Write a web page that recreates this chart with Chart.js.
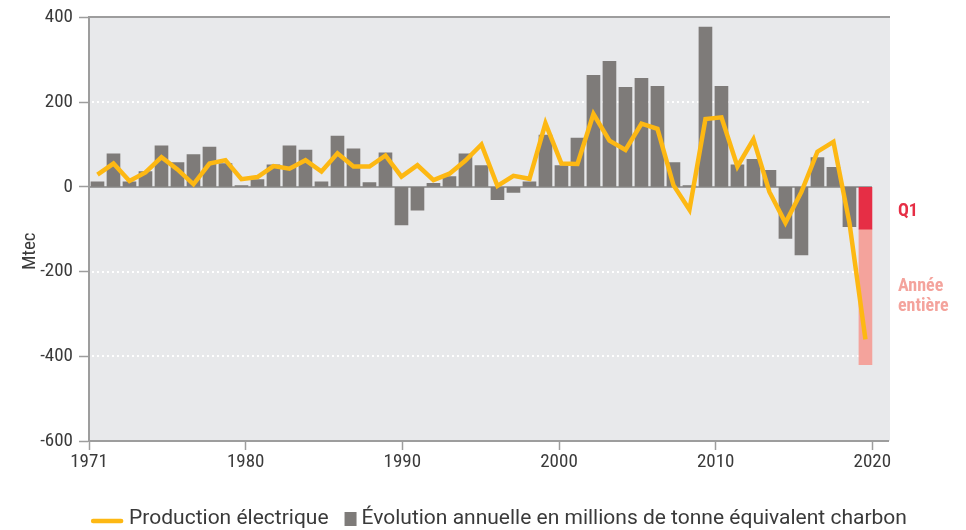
<!DOCTYPE html>
<html>
<head>
<meta charset="utf-8">
<script src="https://cdn.jsdelivr.net/npm/chart.js@4/dist/chart.umd.min.js"></script>
<style>
  html, body { margin: 0; padding: 0; background: #ffffff; }
  #wrap { width: 966px; height: 530px; position: relative; }
  canvas { display: block; }
</style>
</head>
<body>
<div id="wrap"><canvas id="chart" width="966" height="530" style="width:966px;height:530px"></canvas></div>
<script>
// ---------- DATA ----------
const years = [1972,1973,1974,1975,1976,1977,1978,1979,1980,1981,
               1982,1983,1984,1985,1986,1987,1988,1989,1990,1991,
               1992,1993,1994,1995,1996,1997,1998,1999,2000,2001,
               2002,2003,2004,2005,2006,2007,2008,2009,2010,2011,
               2012,2013,2014,2015,2016,2017,2018,2019,2020];

// Annual change in coal demand (Mtec), 1972-2019
const coalChange = [12,78,12,36,97,57,76,94,55,3,
                    17,52,97,87,12,120,90,10,80,-90,
                    -55,8,24,78,50,-30,-13,12,122,50,
                    115,263,296,235,256,237,57,3,377,237,
                    52,65,39,-122,-161,69,46,-94];

// Change in electricity production (Mtec equivalent), 1972-2020
const powerChange = [29,55,14,34,70,41,6,55,63,18,
                     23,49,43,63,36,79,48,48,74,24,
                     51,16,31,62,100,2,26,19,150,55,
                     54,172,109,87,149,137,4,-54,160,164,
                     48,112,-12,-85,-12,83,106,-85,-360];

const lastYear = 2020;
const q1Value = -100;        // 2020, first quarter
const fullYearValue = -420;  // 2020, whole year

const xTickLabels = ['1971','1980','1990','2000','2010','2020'];
const yTickLabels = ['-600','-400','-200','0','200','400'];

const seriesLabels = ['Production électrique',
                      'Évolution annuelle en millions de tonne équivalent charbon'];
const q1Label = 'Q1';
const fullYearLabel = ['Année', 'entière'];
const yTitle = 'Mtec';

// ---------- STYLE ----------
const C_LINE = '#fdb813';
const C_BAR = '#7e7b79';
const C_Q1 = '#e62e45';
const C_FULL = '#f4a39c';
const C_BG = '#e8e9eb';
const C_AXIS = '#9d9d9d';
const C_TEXT = '#3a3a3a';
const TICK_FONT = "'Liberation Sans Narrow', 'Roboto Condensed', 'DejaVu Sans Condensed', sans-serif";
const LEG_FONT = "Roboto, 'Noto Sans', sans-serif";

const coalPoints = coalChange.map((v, i) => ({ x: years[i], y: v }));
const powerPoints = powerChange.map((v, i) => ({ x: years[i], y: v }));

const framePlugin = {
  id: 'frame',
  beforeDraw(chart) {
    const { ctx, chartArea: a } = chart;
    ctx.save();
    ctx.fillStyle = C_BG;
    ctx.fillRect(a.left, a.top, a.right - a.left + 2, a.bottom - a.top);
    ctx.restore();
  },
  beforeDatasetsDraw(chart) {
    const { ctx, chartArea: a, scales } = chart;
    const y = scales.y, xb = scales.xb;
    const endX = xb.getPixelForValue(lastYear) + 6.5;
    ctx.save();
    y.ticks.forEach(t => {
      if (t.value === y.max || t.value === y.min || t.value === 0) return;
      const py = Math.round(y.getPixelForValue(t.value));
      ctx.strokeStyle = '#ffffff';
      ctx.lineWidth = 2;
      ctx.setLineDash([2, 3]);
      ctx.beginPath();
      ctx.moveTo(a.left + 3, py);
      ctx.lineTo(endX, py);
      ctx.stroke();
    });
    ctx.setLineDash([]);
    ctx.strokeStyle = C_AXIS;
    ctx.lineWidth = 2;
    const pz = Math.round(y.getPixelForValue(0));
    ctx.beginPath(); ctx.moveTo(a.left, pz); ctx.lineTo(endX, pz); ctx.stroke();
    const pt = Math.round(y.getPixelForValue(y.max));
    ctx.beginPath(); ctx.moveTo(a.left, pt); ctx.lineTo(a.right + 2, pt); ctx.stroke();
    ctx.restore();
  },
  afterDraw(chart) {
    const { ctx, chartArea: a, scales } = chart;
    const y = scales.y;
    ctx.save();
    // annotations
    const ax = a.right + 10;
    ctx.textAlign = 'left';
    ctx.textBaseline = 'middle';
    ctx.font = "bold 18px " + TICK_FONT;
    ctx.fillStyle = C_Q1;
    ctx.fillText(q1Label, ax, y.getPixelForValue(q1Value / 2) + 3);
    ctx.fillStyle = C_FULL;
    const mid = y.getPixelForValue((q1Value + fullYearValue) / 2);
    ctx.fillText(fullYearLabel[0], ax, mid - 10);
    ctx.fillText(fullYearLabel[1], ax, mid + 10);
    // y title
    ctx.save();
    ctx.translate(30, (a.top + a.bottom) / 2 + 22);
    ctx.rotate(-Math.PI / 2);
    ctx.textAlign = 'center';
    ctx.fillStyle = C_TEXT;
    ctx.font = "19px " + TICK_FONT;
    ctx.fillText(yTitle, 0, 0);
    ctx.restore();
    // legend
    ctx.font = "21px " + LEG_FONT;
    ctx.textAlign = 'left';
    ctx.textBaseline = 'middle';
    const lineW = 32, sq = 12;
    const w1 = ctx.measureText(seriesLabels[0]).width;
    const w2 = ctx.measureText(seriesLabels[1]).width;
    const total = lineW + 6 + w1 + 16 + sq + 5 + w2;
    let x = chart.width / 2 + 16 - total / 2;
    const ly = 519;
    ctx.strokeStyle = C_LINE; ctx.lineWidth = 4.5; ctx.lineCap = 'round';
    ctx.beginPath(); ctx.moveTo(x + 2, ly + 2); ctx.lineTo(x + lineW - 2, ly + 2); ctx.stroke();
    x += lineW + 6;
    ctx.fillStyle = C_TEXT;
    ctx.fillText(seriesLabels[0], x, ly);
    x += w1 + 16;
    ctx.fillStyle = C_BAR;
    ctx.fillRect(x, ly - 7, sq, 14);
    x += sq + 5;
    ctx.fillStyle = C_TEXT;
    ctx.fillText(seriesLabels[1], x, ly);
    ctx.restore();
  }
};

new Chart(document.getElementById('chart'), {
  type: 'bar',
  data: {
    datasets: [
      {
        type: 'line',
        label: seriesLabels[0],
        data: powerPoints,
        xAxisID: 'xb', yAxisID: 'y',
        borderColor: C_LINE,
        borderWidth: 4.5,
        pointRadius: 0,
        tension: 0,
        fill: false,
        order: 0
      },
      {
        label: seriesLabels[1],
        data: coalPoints,
        xAxisID: 'xb', yAxisID: 'y',
        backgroundColor: C_BAR,
        barThickness: 13,
        grouped: false,
        order: 1
      },
      {
        label: q1Label,
        data: [{ x: lastYear, y: q1Value }],
        xAxisID: 'xb', yAxisID: 'y',
        backgroundColor: C_Q1,
        barThickness: 13,
        grouped: false,
        order: 1
      },
      {
        label: fullYearLabel.join(' '),
        data: [{ x: lastYear, y: [q1Value, fullYearValue] }],
        xAxisID: 'xb', yAxisID: 'y',
        backgroundColor: C_FULL,
        barThickness: 13,
        grouped: false,
        order: 1
      }
    ]
  },
  options: {
    responsive: false,
    maintainAspectRatio: false,
    animation: false,
    devicePixelRatio: 1,
    layout: { padding: { top: 14, right: 78, left: 0, bottom: 0 } },
    plugins: { legend: { display: false }, tooltip: { enabled: false }, title: { display: false } },
    scales: {
      xb: {
        type: 'linear',
        axis: 'x',
        display: false,
        min: 1971.47,
        max: 2021.41,
        offset: false,
        grid: { offset: false }
      },
      xt: {
        type: 'linear',
        axis: 'x',
        position: 'bottom',
        min: 1970,
        max: 2021,
        offset: false,
        afterBuildTicks(scale) {
          scale.ticks = xTickLabels.map((l, i) => ({ value: i === 0 ? scale.min : Number(l) }));
        },
        afterFit(scale) { scale.height = 89; },
        grid: { offset: false, drawOnChartArea: false, drawTicks: true, tickLength: 9, tickColor: C_AXIS, tickWidth: 1.5 },
        border: { display: true, color: C_AXIS, width: 2 },
        ticks: {
          autoSkip: false, maxRotation: 0, padding: 1,
          color: C_TEXT, font: { family: TICK_FONT, size: 19 },
          callback: (v, i) => xTickLabels[i]
        }
      },
      y: {
        type: 'linear',
        min: -600,
        max: 400,
        afterBuildTicks(scale) {
          scale.ticks = yTickLabels.map(l => ({ value: Number(l) }));
        },
        afterFit(scale) { scale.width = 89; },
        grid: { drawOnChartArea: false, drawTicks: true, tickLength: 10, tickColor: C_AXIS, tickWidth: 1.5 },
        border: { display: true, color: C_AXIS, width: 2 },
        ticks: {
          padding: 6, color: C_TEXT, font: { family: TICK_FONT, size: 19 },
          callback: (v, i) => yTickLabels[i]
        }
      }
    }
  },
  plugins: [framePlugin]
});
</script>
</body>
</html>
